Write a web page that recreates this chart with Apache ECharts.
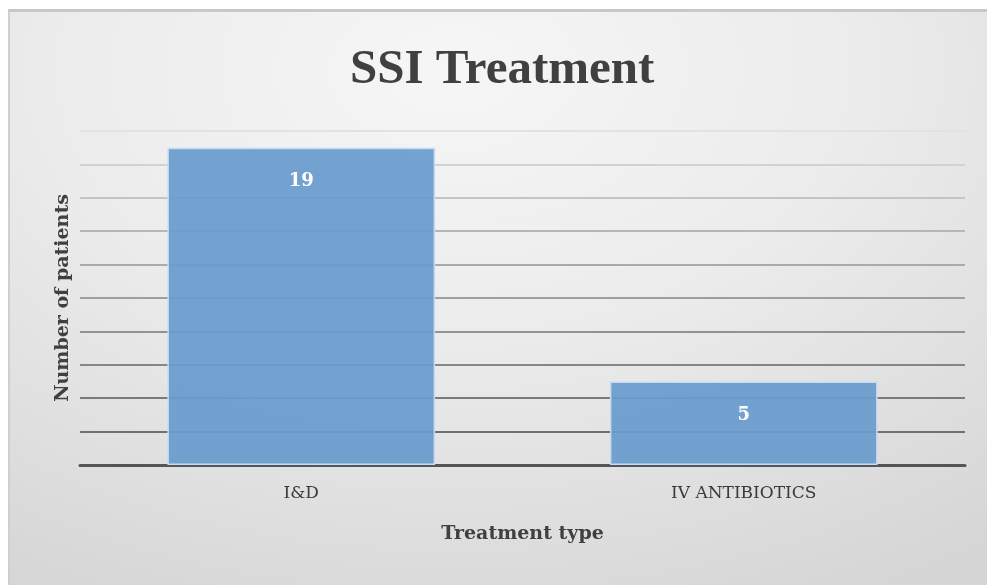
<!DOCTYPE html>
<html>
<head>
<meta charset="utf-8">
<script src="https://cdn.jsdelivr.net/npm/echarts@6/dist/echarts.min.js"></script>
<style>
html,body{margin:0;padding:0;background:#fff;}
#frame{position:absolute;left:8px;top:9px;width:985px;height:580px;border-top:3px solid #c8c8c8;border-left:2px solid #cfcfcf;
background:radial-gradient(ellipse 90% 100% at 45% 10%, #f6f6f6 0%, #ececec 45%, #dcdcdc 85%, #d6d6d6 100%);}
#chart{position:absolute;left:-10px;top:-12px;width:987px;height:585px;}
</style>
</head>
<body>
<div id="frame"><div id="chart"></div></div>
<script>
const categories = ['I&D', 'IV ANTIBIOTICS'];
const patients = [19, 5];
const titleText = 'SSI Treatment';
const xName = 'Treatment type';
const yName = 'Number of patients';

const chart = echarts.init(document.getElementById('chart'), null, {renderer: 'canvas'});
chart.setOption({
  backgroundColor: 'transparent',
  animation: false,
  title: {
    text: titleText, left: 350, top: 46, padding: 0,
    textStyle: {fontFamily: 'Liberation Serif', fontWeight: 'bold', fontSize: 49, color: '#404040'}
  },
  grid: {left: 80, right: 22, top: 131, bottom: 120},
  xAxis: {
    type: 'category', data: categories,
    name: xName, nameLocation: 'middle', nameGap: 60,
    nameTextStyle: {fontFamily: 'DejaVu Serif', fontWeight: 'bold', fontSize: 19, color: '#404040'},
    axisLine: {lineStyle: {color: '#555555', width: 3}},
    axisTick: {show: false},
    axisLabel: {margin: 20, fontFamily: 'DejaVu Serif', fontSize: 17, color: '#3a3a3a'}
  },
  yAxis: {
    type: 'value', min: 0, max: 20, interval: 2,
    name: yName, nameLocation: 'middle', nameGap: 7,
    nameTextStyle: {fontFamily: 'DejaVu Serif', fontWeight: 'bold', fontSize: 19, color: '#404040'},
    axisLabel: {show: false}, axisTick: {show: false}, axisLine: {show: false},
    splitLine: {lineStyle: {width: 2, color: ['#666666','#707070','#7a7a7a','#868686','#929292','#9e9e9e','#aaaaaa','#b6b6b6','#c4c4c4','#d2d2d2','#e2e2e2']}}
  },
  series: [{
    type: 'bar', data: patients, barCategoryGap: '39.5%',
    itemStyle: {color: 'rgba(106,156,206,0.93)', borderColor: '#c6dbf0', borderWidth: 1.5},
    label: {show: true, position: 'insideTop', distance: 25, color: '#ffffff',
      fontFamily: 'DejaVu Serif', fontWeight: 'bold', fontSize: 18}
  }]
});
</script>
</body>
</html>
